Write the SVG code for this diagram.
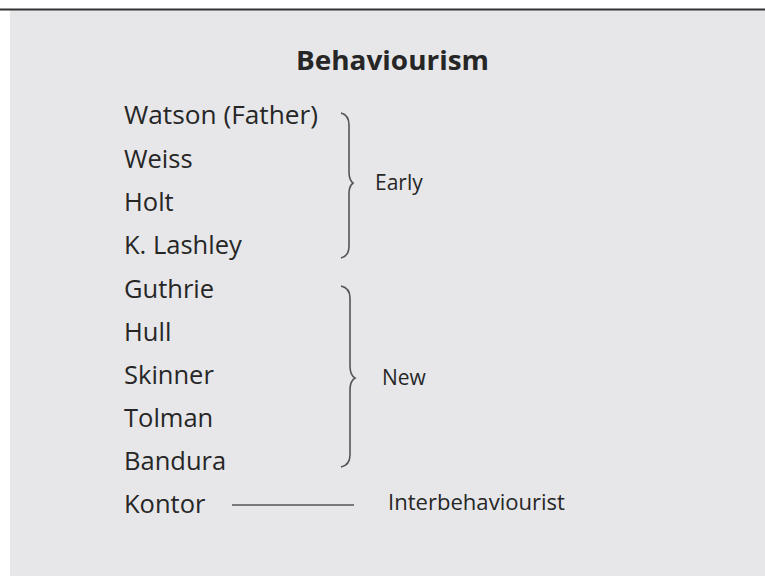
<svg xmlns="http://www.w3.org/2000/svg" width="765" height="581" viewBox="0 0 765 581">
<style>
.t{font-family:"Open Sans","Liberation Sans",sans-serif;fill:#262626}
.n{font-size:25.5px}
.l{font-size:21px}
.b{fill:none;stroke:#555;stroke-width:1.6}
</style>
<rect x="0" y="0" width="765" height="581" fill="#ffffff"/>
<rect x="10" y="10" width="755" height="566" fill="#e7e7e9"/>
<line x1="0" y1="9.5" x2="765" y2="9.5" stroke="#333" stroke-width="2"/>
<g id="title"><text class="t" x="296" y="70" font-size="27" font-weight="bold" textLength="193" lengthAdjust="spacingAndGlyphs">Behaviourism</text></g>
<g id="watson"><text class="t n" x="124" y="124" textLength="194" lengthAdjust="spacingAndGlyphs">Watson (Father)</text></g>
<g id="weiss"><text class="t n" x="124" y="168">Weiss</text></g>
<g id="holt"><text class="t n" x="124" y="211">Holt</text></g>
<g id="lashley"><text class="t n" x="124" y="254">K. Lashley</text></g>
<g id="guthrie"><text class="t n" x="124" y="298">Guthrie</text></g>
<g id="hull"><text class="t n" x="124" y="341">Hull</text></g>
<g id="skinner"><text class="t n" x="124" y="384">Skinner</text></g>
<g id="tolman"><text class="t n" x="124" y="427">Tolman</text></g>
<g id="bandura"><text class="t n" x="124" y="470">Bandura</text></g>
<g id="kontor"><text class="t n" x="124" y="513">Kontor</text></g>
<g id="early"><text class="t l" x="375" y="190">Early</text></g>
<g id="new"><text class="t l" x="382" y="385">New</text></g>
<g id="interbehaviourist"><text class="t l" x="388" y="510" textLength="177" lengthAdjust="spacingAndGlyphs">Interbehaviourist</text></g>
<g id="connectors">
<path class="b" d="M341,113 Q349,115 349,125 L349,172 Q349,180 353,183 Q349,186 349,194 L349,246 Q349,256 341,258"/>
<path class="b" d="M341,286 Q350,288 350,298 L350,366 Q350,375 355,378 Q350,381 350,390 L350,455 Q350,465 341,467"/>
<line x1="232" y1="505" x2="354" y2="505" stroke="#555" stroke-width="1.6"/>
</g>
</svg>
